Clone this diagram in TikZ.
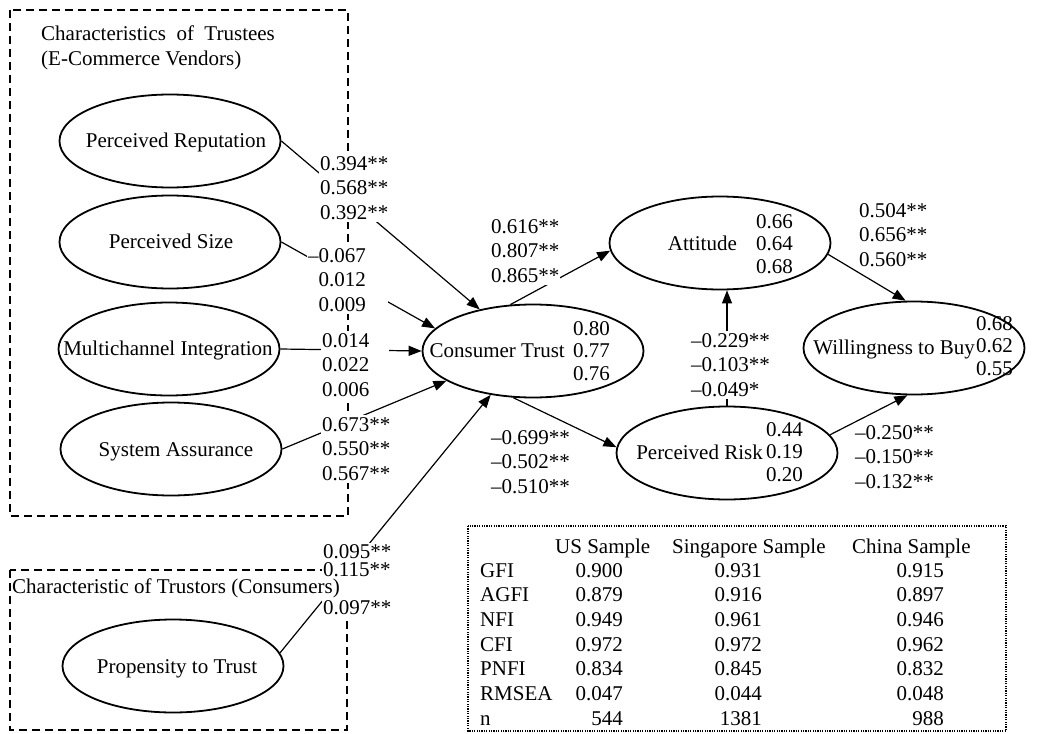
\documentclass[tikz,border=0pt]{standalone}
\usepackage{fontspec}
\setmainfont{Liberation Serif}
\usetikzlibrary{arrows.meta,shapes.geometric}

\begin{document}
\begin{tikzpicture}[x=1pt,y=-1pt,font=\fontsize{21}{24.5}\selectfont]
    \useasboundingbox (0,0) rectangle (1043,733);

    % group frames
    \begin{scope}[dash pattern=on 8pt off 5pt,line width=1.5pt]
      \draw (10,10) rectangle (348,516);
      \draw (10,570) rectangle (347,730);
    \end{scope}

    \begin{scope}[every node/.style={shape=ellipse,draw=black,line width=1.8pt,
        minimum width=221pt,minimum height=93pt,inner sep=0pt}]
      \node (rep) at (170,141) {};
      \node (size) at (170,242) {};
      \node (multi) at (169,349) {};
      \node (assur) at (171,449) {};
      \node (prop) at (173,666) {};
      \node (trust) at (533,351) {};
      \node (att) at (720,243) {};
      \node (risk) at (727,453) {};
      \node (buy) at (914,348) {};
    \end{scope}

    \begin{scope}[every node/.style={inner sep=0pt}]
      \node[anchor=base] (repname) at (176,147) {Perceived Reputation};
      \node[anchor=base] (sizename) at (171,248) {Perceived Size};
      \node[anchor=base] (multiname) at (168,355) {Multichannel Integration};
      \node[anchor=base] (assurname) at (176,456) {System Assurance};
      \node[anchor=base] (propname) at (177,673) {Propensity to Trust};
      \node[anchor=base east] (trustname) at (565,357) {Consumer Trust};
      \node[anchor=base east] (attname) at (737,250) {Attitude};
      \node[anchor=base east] (riskname) at (763,459) {Perceived Risk};
      \node[anchor=base east] (buyname) at (975,354) {Willingness to Buy};
    \end{scope}

    \begin{scope}[every node/.style={inner sep=0pt,anchor=east,align=right,
        font=\fontsize{21}{22.5}\selectfont}]
      \node (trustval) at (610,351) {0.80\\0.77\\0.76};
      \node (attval) at (793,244) {0.66\\0.64\\0.68};
      \node (riskval) at (803,452) {0.44\\0.19\\0.20};
      \node (buyval) at (1013,346) {0.68\\0.62\\0.55};
    \end{scope}

    \begin{scope}[>={Triangle[length=13pt,width=10pt]},
        every edge/.style={draw=black,line width=1.2pt}]
      \path [->] (rep.east) edge (trust.142.5);
      \path [->] (size.east) edge (trust.167);
      \path [->] (multi.east) edge (trust.west);
      \path [->] (assur.east) edge (trust.199);
      \path [->] (prop.7) edge (trust.226);
      \path [->] (trust.116) edge (att.184);
      \path [->] (att.-6) edge (buy.100);
      \path [->] (risk.north) edge (risk.north |- att.south);
      \path [->] (trust.247) edge (risk.177);
      \path [->] (risk.10) edge (buy.262);
    \end{scope}

    % path coefficients
    \begin{scope}[every node/.style={fill=white,inner xsep=1pt,inner ysep=2pt,
        align=left,text width=68pt,anchor=west}]
      \node (crep) at (319,188) {0.394**\\0.568**\\0.392**};
      \node[text width=79pt] (csize) at (307,280) {–0.067\\\phantom{–}0.012\\\phantom{–}0.009};
      \node[text width=66pt] (cmulti) at (321,365) {0.014\\0.022\\0.006};
      \node (cassur) at (321,449) {0.673**\\0.550**\\0.567**};
      \node (cprop) at (322,580) {0.095**\\[-6.5pt]0.115**\\[13.5pt]0.097**};
      \node (ctrust) at (490,251) {0.616**\\0.807**\\0.865**};
      \node (catt) at (858,235) {0.504**\\0.656**\\0.560**};
      \node[text width=79pt] (crisk) at (690,365) {–0.229**\\–0.103**\\–0.049*};
      \node[text width=79pt] (ctrisk) at (490,462) {–0.699**\\–0.502**\\–0.510**};
      \node[text width=79pt] (cbuy) at (854,457) {–0.250**\\–0.150**\\–0.132**};
    \end{scope}

    \node[anchor=north west,align=left,inner sep=0pt] (trustees) at (41,26)
         {Characteristics\ \ of\ \ Trustees\\(E-Commerce Vendors)};
    \node[anchor=west,inner sep=0pt] (trustors) at (12,588)
         {Characteristic of Trustors (Consumers)};

    % fit indices
    \draw[dash pattern=on 1.2pt off 1.2pt,line width=1.2pt] (468,526) rectangle (1006,731);
    \begin{scope}[every node/.style={inner sep=0pt}]
      \node[anchor=base west] (hdrus) at (555,553) {US Sample};
      \node[anchor=base west] (hdrsg) at (672,553) {Singapore Sample};
      \node[anchor=base west] (hdrcn) at (852,553) {China Sample};
      \foreach \fitname/\usval/\sgval/\cnval [count=\i] in
          {GFI/0.900/0.931/0.915,AGFI/0.879/0.916/0.897,NFI/0.949/0.961/0.946,
           CFI/0.972/0.972/0.962,PNFI/0.834/0.845/0.832,RMSEA/0.047/0.044/0.048,
           n/544/1381/988} {
        \node[anchor=base west] (fit\i) at (480,{552.3+24.7*\i}) {\fitname};
        \node[anchor=base east] (us\i) at (623,{552.3+24.7*\i}) {\usval};
        \node[anchor=base east] (sg\i) at (762,{552.3+24.7*\i}) {\sgval};
        \node[anchor=base east] (cn\i) at (944,{552.3+24.7*\i}) {\cnval};
      }
    \end{scope}
  \end{tikzpicture}
\end{document}
